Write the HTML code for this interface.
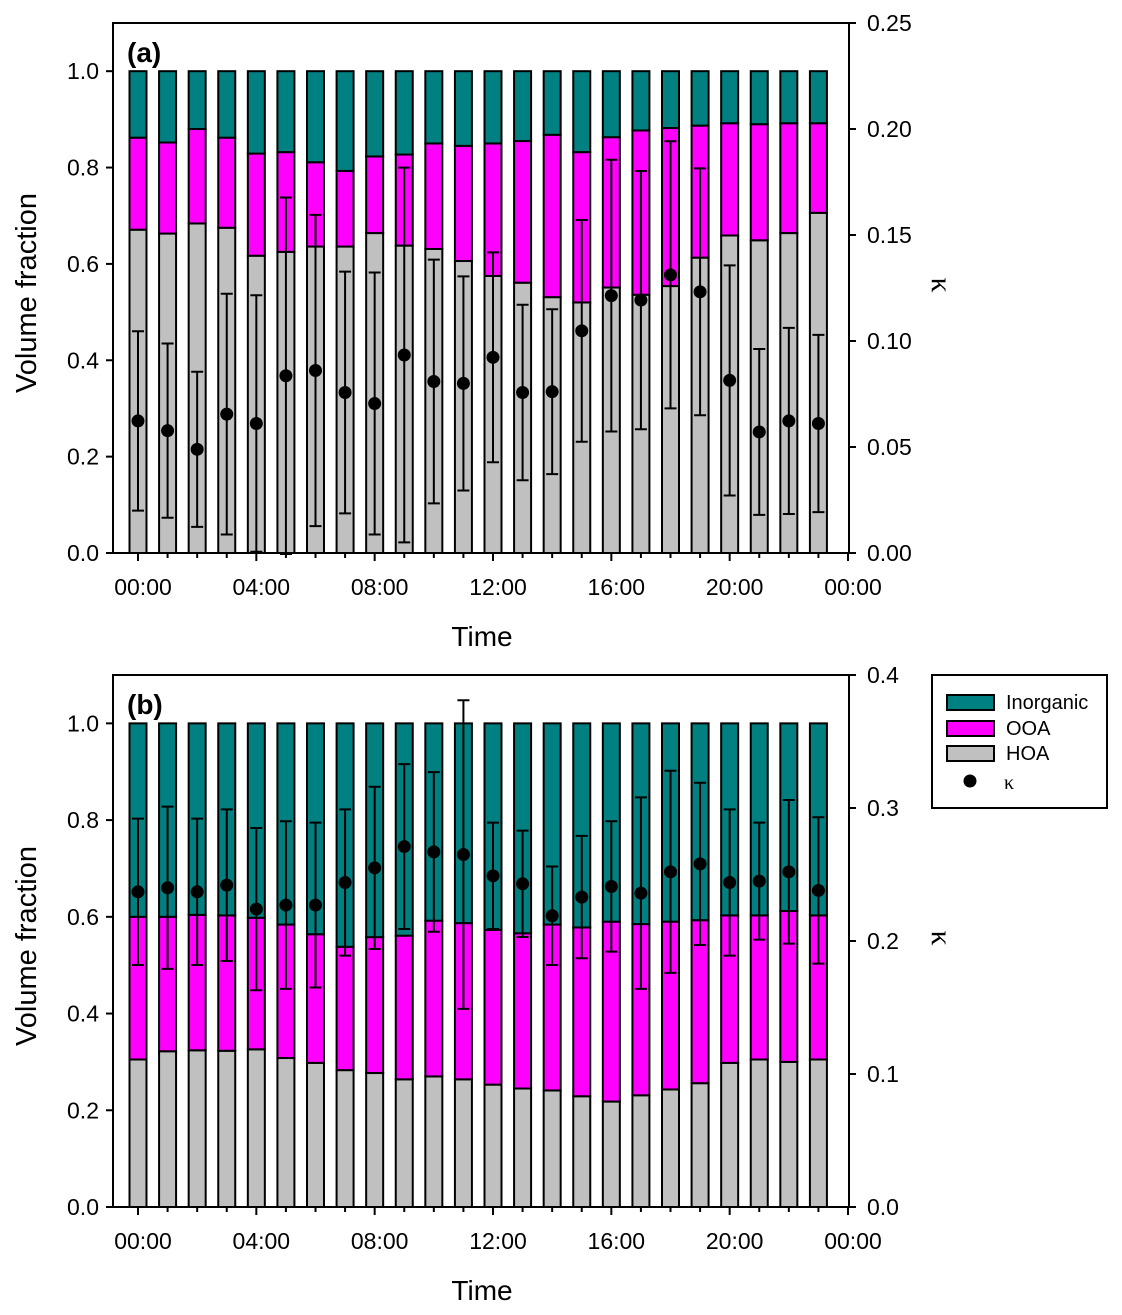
<!DOCTYPE html>
<html><head><meta charset="utf-8"><style>
body{margin:0;background:#fff;}
svg{display:block;font-family:"Liberation Sans",Arial,sans-serif;}
</style></head><body>
<svg id="chart" width="1122" height="1315" viewBox="0 0 1122 1315" xmlns="http://www.w3.org/2000/svg"></svg>
<script>
const hours=[0,1,2,3,4,5,6,7,8,9,10,11,12,13,14,15,16,17,18,19,20,21,22,23];
const xTickLabels=["00:00","04:00","08:00","12:00","16:00","20:00","00:00"];
const hoaA=[0.671,0.663,0.684,0.675,0.617,0.625,0.636,0.636,0.664,0.638,0.631,0.606,0.575,0.561,0.531,0.520,0.551,0.536,0.554,0.613,0.659,0.649,0.664,0.706];
const ooaTopA=[0.862,0.852,0.880,0.862,0.829,0.832,0.811,0.793,0.823,0.827,0.850,0.845,0.850,0.855,0.868,0.832,0.863,0.877,0.882,0.887,0.892,0.890,0.892,0.892];
const kappaA=[0.0623,0.0577,0.0489,0.0655,0.0611,0.0836,0.0861,0.0757,0.0705,0.0934,0.0809,0.0800,0.0923,0.0757,0.0761,0.1048,0.1214,0.1193,0.1312,0.1232,0.0814,0.0571,0.0623,0.0611];
const kappaSdA=[0.0423,0.0411,0.0366,0.0568,0.0605,0.0841,0.0734,0.0570,0.0618,0.0884,0.0575,0.0505,0.0495,0.0414,0.0389,0.0523,0.0641,0.0609,0.0630,0.0582,0.0543,0.0391,0.0439,0.0418];
const hoaB=[0.305,0.322,0.324,0.323,0.326,0.308,0.298,0.283,0.277,0.264,0.270,0.264,0.253,0.245,0.241,0.229,0.218,0.231,0.243,0.256,0.298,0.305,0.300,0.305];
const ooaTopB=[0.600,0.600,0.604,0.603,0.598,0.584,0.564,0.538,0.558,0.561,0.592,0.587,0.573,0.566,0.584,0.578,0.590,0.585,0.590,0.593,0.603,0.603,0.612,0.603];
const kappaB=[0.237,0.240,0.237,0.242,0.224,0.227,0.227,0.244,0.255,0.271,0.267,0.265,0.249,0.243,0.219,0.233,0.241,0.236,0.252,0.258,0.244,0.245,0.252,0.238];
const kappaSdB=[0.055,0.061,0.055,0.057,0.061,0.063,0.062,0.055,0.061,0.062,0.060,0.116,0.040,0.040,0.037,0.046,0.049,0.072,0.076,0.061,0.055,0.044,0.054,0.055];
const leftTicks=[0,0.2,0.4,0.6,0.8,1.0];
const rightTicksA=[0,0.05,0.10,0.15,0.20,0.25];
const rightTicksB=[0,0.1,0.2,0.3,0.4];

const NS="http://www.w3.org/2000/svg";
const svg=document.getElementById('chart');
function el(tag,attrs,parent){const e=document.createElementNS(NS,tag);for(const k in attrs)e.setAttribute(k,attrs[k]);(parent||svg).appendChild(e);return e;}
const X0=113,X1=849;
function xScale(h){return 138+h*(848-138)/24;}

function panel(p){
  const g=el('g',{});
  
  
  const H=p.bottom-p.top;
  const yL=v=>p.bottom-v/1.1*H;
  const yR=v=>p.bottom-v/p.rmax*H;
  const bw=17;
  hours.forEach((h,i)=>{
    const cx=xScale(h);
    const segs=[[0,p.hoa[i],'#c0c0c0','hoa'],[p.hoa[i],p.ooaTop[i],'#ff00ff','ooa'],[p.ooaTop[i],1,'#008080','inorganic']];
    segs.forEach(s=>{
      const r=el('rect',{x:cx-bw/2,y:yL(s[1]),width:bw,height:yL(s[0])-yL(s[1]),fill:s[2],stroke:'#000','stroke-width':2},g);
      
      
    });
  });
  hours.forEach((h,i)=>{
    const cx=xScale(h);const k=p.kappa[i],sd=p.sd[i];
    const e=el('path',{d:`M${cx},${yR(k+sd)}V${yR(k-sd)}M${cx-6},${yR(k+sd)}H${cx+6}M${cx-6},${yR(k-sd)}H${cx+6}`,stroke:'#000','stroke-width':2,fill:'none'},g);
    
    
    const c=el('circle',{cx:cx,cy:yR(k),r:6.5,fill:'#000'},g);
    
    
  });
  const fr=el('rect',{x:X0,y:p.top,width:X1-X0,height:H,fill:'none',stroke:'#000','stroke-width':2},g);
  
  
  leftTicks.forEach(v=>{
    el('line',{x1:X0-7,x2:X0,y1:yL(v),y2:yL(v),stroke:'#000','stroke-width':2},g);
    const t=el('text',{x:X0-14,y:yL(v)+8,'text-anchor':'end','font-size':23},g);t.textContent=v.toFixed(1);
    
    
  });
  p.rticks.forEach(v=>{
    el('line',{x1:X1,x2:X1+7,y1:yR(v),y2:yR(v),stroke:'#000','stroke-width':2},g);
    const t=el('text',{x:X1+18,y:yR(v)+8,'font-size':23},g);t.textContent=v.toFixed(p.rdec);
    
    
  });
  hours.forEach(h=>{el('line',{x1:xScale(h),x2:xScale(h),y1:p.bottom,y2:p.bottom+(h%4==0?8:5),stroke:'#000','stroke-width':2},g);});
  el('line',{x1:xScale(24),x2:xScale(24),y1:p.bottom,y2:p.bottom+8,stroke:'#000','stroke-width':2},g);
  xTickLabels.forEach((l,i)=>{
    const t=el('text',{x:xScale(i*4)+5,y:p.bottom+42,'text-anchor':'middle','font-size':23},g);t.textContent=l;
    
    
  });
  const xt=el('text',{x:482,y:p.bottom+93,'text-anchor':'middle','font-size':28},g);xt.textContent='Time';
  
  
  const yc=(p.top+p.bottom)/2+5;
  const yt=el('text',{x:0,y:0,transform:`translate(36,${yc}) rotate(-90)`,'text-anchor':'middle','font-size':29},g);yt.textContent='Volume fraction';
  
  
  const rt=el('text',{x:0,y:0,transform:`translate(932,${yc-8}) rotate(90)`,'text-anchor':'middle','font-size':30,'font-family':'"Liberation Serif",serif'},g);rt.textContent='κ';
  
  
  const pl=el('text',{x:127,y:p.top+39,'font-size':28,'font-weight':'bold'},g);pl.textContent='('+p.id+')';
  
  
}
panel({id:'a',top:23,bottom:553,hoa:hoaA,ooaTop:ooaTopA,kappa:kappaA,sd:kappaSdA,rmax:0.25,rticks:rightTicksA,rdec:2});
panel({id:'b',top:675,bottom:1207,hoa:hoaB,ooaTop:ooaTopB,kappa:kappaB,sd:kappaSdB,rmax:0.4,rticks:rightTicksB,rdec:1});

const lg=el('g',{});


el('rect',{x:932,y:675,width:175,height:133,fill:'#fff',stroke:'#000','stroke-width':2},lg);
[['Inorganic','#008080',702],['OOA','#ff00ff',728],['HOA','#c0c0c0',753]].forEach(e=>{
  const r=el('rect',{x:947,y:e[2]-7,width:47,height:15,fill:e[1],stroke:'#000','stroke-width':2},lg);
  
  
  const t=el('text',{x:1006,y:e[2]+7,'font-size':20},lg);t.textContent=e[0];
  
  
});
const lc=el('circle',{cx:970,cy:781,r:6.5,fill:'#000'},lg);


const lt=el('text',{x:1004,y:789,'font-size':20,'font-family':'"Liberation Serif",serif'},lg);lt.textContent='κ';


</script>
</body></html>
